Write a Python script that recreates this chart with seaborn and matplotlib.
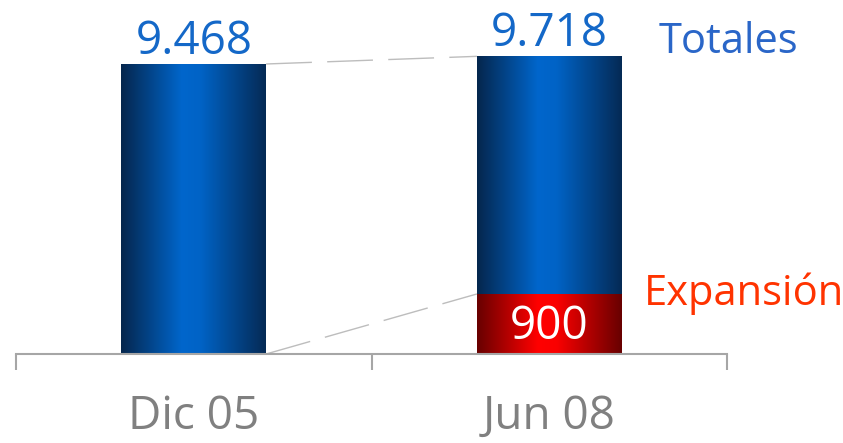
import matplotlib
matplotlib.use("Agg")
import numpy
import pandas
import matplotlib.pyplot as plt
from matplotlib.colors import LinearSegmentedColormap
import seaborn

periodos = ["Dic 05", "Jun 08"]
totales = [9468, 9718]
etiquetas_totales = ["9.468", "9.718"]
# altura dibujada del bloque rojo (no está a escala en el original)
expansion = [0, 1960]
etiqueta_expansion = "900"

df = pandas.DataFrame({"periodo": periodos, "total": totales, "expansion": expansion})

seaborn.set_style("white")
plt.rcParams["font.family"] = ["Open Sans", "DejaVu Sans"]

fig = plt.figure(figsize=(8.43, 4.43), dpi=100)
ax = fig.add_axes([16 / 843, 89 / 443, 711 / 843, 306.3 / 443])

seaborn.barplot(data=df, x="periodo", y="total", width=0.407, color="#0066cc",
                saturation=1, ax=ax)
seaborn.barplot(data=df, x="periodo", y="expansion", width=0.407, color="#ff0000",
                saturation=1, ax=ax)

azul = LinearSegmentedColormap.from_list("azul", [(0, "#05264d"), (0.42, "#0066cc"),
                                                  (0.55, "#0063c6"), (1, "#052a55")])
rojo = LinearSegmentedColormap.from_list("rojo", [(0, "#680000"), (0.42, "#ff0000"),
                                                  (0.55, "#fa0000"), (1, "#680000")])
grad = numpy.linspace(0, 1, 256).reshape(1, -1)
n = len(periodos)
for i, p in enumerate(ax.patches):
    if p.get_height() <= 0:
        continue
    cmap = azul if i < n else rojo
    x, y, w, h = p.get_x(), p.get_y(), p.get_width(), p.get_height()
    im = ax.imshow(grad, cmap=cmap, aspect="auto", extent=(x, x + w, y, y + h),
                   zorder=p.get_zorder() + 0.1)
    im.set_clip_path(p)

# lineas discontinuas entre barras
b1 = ax.patches[0]
b2 = ax.patches[1]
x1 = b1.get_x() + b1.get_width()
x2 = b2.get_x()
ax.plot([x1, x2], [totales[0], totales[1]], color="#bdbdbd", lw=1, dashes=(33, 11))
ax.plot([x1, x2], [0, expansion[1]], color="#bdbdbd", lw=1, dashes=(33, 11))

for i, t in enumerate(etiquetas_totales):
    ax.text(i, totales[i] + 340, t, ha="center", va="baseline", fontsize=33,
            color="#1468c8")
ax.text(1, 500, etiqueta_expansion, ha="center", va="baseline", fontsize=33,
        color="white")
ax.text(1.503, 9827, "Totales", ha="center", va="baseline", fontsize=30,
        color="#2a66c8")
ax.text(1.548, 1600, "Expansión", ha="center", va="baseline", fontsize=30,
        color="#ff3300")

ax.set_xlim(-0.5, 1.5)
ax.set_ylim(0, 10000)
ax.set_xlabel("")
ax.set_ylabel("")
ax.set_yticks([])
for s in ["top", "left", "right"]:
    ax.spines[s].set_visible(False)
ax.spines["bottom"].set_color("#a6a6a6")
ax.spines["bottom"].set_linewidth(1.5)
ax.set_xticks([-0.5, 0.5, 1.5], minor=True)
ax.tick_params(axis="x", which="minor", length=11.5, width=1.5, color="#a6a6a6",
               direction="out")
ax.tick_params(axis="x", which="major", length=0, pad=29, labelsize=33,
               labelcolor="#808080")
ax.xaxis.set_ticks_position("bottom")

fig.savefig("out.png", dpi=100)
